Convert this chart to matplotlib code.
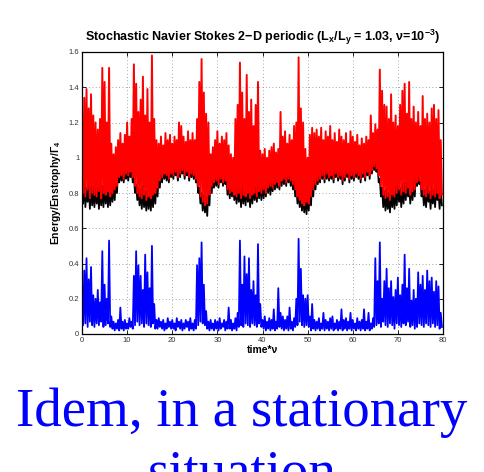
import numpy as np
import matplotlib
matplotlib.use("Agg")
import matplotlib.pyplot as plt

# ---------------- data (per 0.5 time-unit bin: local max / local min)
time_step = 0.5

red_hi = [
    1.18, 1.34, 1.39, 1.28, 1.36, 1.24, 1.20, 1.16, 1.22, 1.51,
    1.43, 1.20, 1.51, 1.08, 1.02, 1.06, 1.10, 1.14, 1.08, 1.13,
    1.20, 1.12, 1.22, 1.53, 1.42, 1.26, 1.33, 1.46, 1.24, 1.39,
    1.20, 1.58, 1.22, 1.10, 1.08, 1.12, 1.07, 1.14, 1.10, 1.13,
    1.08, 1.12, 1.10, 1.20, 1.18, 1.12, 1.09, 1.15, 1.10, 1.14,
    1.10, 1.22, 1.43, 1.56, 1.37, 1.25, 1.20, 1.02, 1.06, 1.10,
    1.15, 1.08, 1.12, 1.10, 1.14, 1.07, 1.02, 1.00, 1.22, 1.30,
    1.54, 1.37, 1.22, 1.47, 1.26, 1.33, 1.18, 1.30, 1.43, 1.04,
    1.02, 1.05, 1.00, 1.04, 1.06, 1.08, 1.03, 1.05, 1.26, 1.12,
    1.15, 1.08, 1.13, 1.10, 1.18, 1.20, 1.57, 1.28, 1.20, 1.05,
    1.00, 1.13, 1.17, 1.14, 1.16, 1.12, 1.17, 1.10, 1.15, 1.12,
    1.18, 1.10, 1.14, 1.09, 1.16, 1.12, 1.10, 1.14, 1.08, 1.15,
    1.12, 1.09, 1.13, 1.07, 1.11, 1.08, 1.12, 1.10, 1.24, 1.14,
    1.19, 1.16, 1.50, 1.38, 1.30, 1.29, 1.22, 1.36, 1.20, 1.24,
    1.18, 1.30, 1.38, 1.42, 1.25, 1.43, 1.22, 1.29, 1.20, 1.26,
    1.18, 1.35, 1.22, 1.25, 1.20, 1.28, 1.30, 1.22, 1.27, 1.10,
]
red_lo = [
    0.80, 0.78, 0.82, 0.77, 0.80, 0.79, 0.78, 0.81, 0.77, 0.80,
    0.79, 0.81, 0.78, 0.80, 0.82, 0.84, 0.89, 0.90, 0.88, 0.91,
    0.90, 0.92, 0.89, 0.84, 0.80, 0.78, 0.77, 0.79, 0.76, 0.78,
    0.77, 0.79, 0.80, 0.83, 0.87, 0.89, 0.91, 0.90, 0.88, 0.91,
    0.90, 0.92, 0.89, 0.91, 0.93, 0.90, 0.92, 0.89, 0.91, 0.90,
    0.88, 0.84, 0.78, 0.75, 0.73, 0.74, 0.79, 0.84, 0.86, 0.87,
    0.85, 0.88, 0.86, 0.87, 0.82, 0.80, 0.81, 0.79, 0.78, 0.80,
    0.77, 0.79, 0.78, 0.80, 0.77, 0.79, 0.80, 0.78, 0.81, 0.80,
    0.82, 0.80, 0.83, 0.84, 0.83, 0.85, 0.86, 0.84, 0.87, 0.88,
    0.86, 0.88, 0.87, 0.85, 0.82, 0.78, 0.76, 0.74, 0.73, 0.75,
    0.74, 0.78, 0.82, 0.85, 0.87, 0.88, 0.90, 0.88, 0.91, 0.89,
    0.90, 0.88, 0.91, 0.89, 0.90, 0.87, 0.89, 0.91, 0.88, 0.90,
    0.89, 0.91, 0.90, 0.88, 0.91, 0.89, 0.92, 0.90, 0.93, 0.95,
    0.94, 0.90, 0.84, 0.79, 0.77, 0.78, 0.76, 0.79, 0.78, 0.80,
    0.82, 0.79, 0.81, 0.80, 0.83, 0.79, 0.81, 0.82, 0.86, 0.87,
    0.82, 0.79, 0.78, 0.80, 0.77, 0.79, 0.78, 0.80, 0.77, 0.79,
]
black_hi = [
    0.84, 0.86, 0.83, 0.85, 0.87, 0.84, 0.86, 0.83, 0.85, 0.84,
    0.86, 0.83, 0.85, 0.84, 0.86, 0.88, 0.93, 0.94, 0.92, 0.95,
    0.93, 0.96, 0.94, 0.90, 0.85, 0.83, 0.82, 0.84, 0.81, 0.83,
    0.82, 0.84, 0.85, 0.88, 0.92, 0.94, 0.96, 0.95, 0.93, 0.96,
    0.95, 0.97, 0.94, 0.96, 0.98, 0.95, 0.97, 0.94, 0.96, 0.95,
    0.93, 0.89, 0.83, 0.80, 0.79, 0.78, 0.83, 0.89, 0.91, 0.92,
    0.90, 0.93, 0.91, 0.92, 0.88, 0.86, 0.87, 0.85, 0.84, 0.85,
    0.83, 0.85, 0.84, 0.86, 0.83, 0.85, 0.86, 0.84, 0.87, 0.86,
    0.87, 0.86, 0.89, 0.90, 0.89, 0.91, 0.92, 0.90, 0.93, 0.94,
    0.92, 0.94, 0.93, 0.91, 0.88, 0.84, 0.82, 0.80, 0.79, 0.80,
    0.80, 0.84, 0.88, 0.91, 0.93, 0.94, 0.96, 0.94, 0.97, 0.95,
    0.96, 0.94, 0.97, 0.95, 0.96, 0.93, 0.95, 0.97, 0.94, 0.96,
    0.95, 0.97, 0.96, 0.94, 0.97, 0.95, 0.98, 0.96, 0.99, 1.01,
    1.00, 0.96, 0.88, 0.83, 0.81, 0.82, 0.80, 0.83, 0.82, 0.84,
    0.86, 0.83, 0.85, 0.86, 0.88, 0.84, 0.86, 0.88, 0.92, 0.93,
    0.87, 0.83, 0.82, 0.85, 0.81, 0.84, 0.82, 0.85, 0.81, 0.83,
]
black_lo = [
    0.74, 0.72, 0.75, 0.71, 0.73, 0.72, 0.74, 0.71, 0.73, 0.72,
    0.74, 0.72, 0.73, 0.75, 0.76, 0.80, 0.86, 0.87, 0.86, 0.88,
    0.87, 0.89, 0.86, 0.80, 0.76, 0.73, 0.71, 0.72, 0.70, 0.71,
    0.70, 0.72, 0.74, 0.78, 0.83, 0.86, 0.88, 0.87, 0.86, 0.89,
    0.88, 0.90, 0.87, 0.89, 0.91, 0.88, 0.90, 0.87, 0.89, 0.88,
    0.86, 0.80, 0.74, 0.70, 0.69, 0.67, 0.73, 0.80, 0.83, 0.84,
    0.83, 0.86, 0.84, 0.85, 0.79, 0.77, 0.78, 0.76, 0.74, 0.75,
    0.72, 0.74, 0.73, 0.75, 0.72, 0.74, 0.76, 0.75, 0.77, 0.76,
    0.77, 0.78, 0.80, 0.79, 0.81, 0.82, 0.83, 0.82, 0.84, 0.85,
    0.84, 0.86, 0.84, 0.82, 0.78, 0.74, 0.72, 0.70, 0.69, 0.68,
    0.70, 0.73, 0.78, 0.82, 0.85, 0.86, 0.88, 0.86, 0.88, 0.87,
    0.88, 0.86, 0.89, 0.87, 0.88, 0.85, 0.87, 0.89, 0.86, 0.88,
    0.87, 0.89, 0.88, 0.86, 0.89, 0.87, 0.90, 0.88, 0.91, 0.93,
    0.92, 0.86, 0.78, 0.72, 0.70, 0.71, 0.69, 0.72, 0.71, 0.73,
    0.75, 0.72, 0.74, 0.76, 0.78, 0.74, 0.76, 0.78, 0.84, 0.85,
    0.78, 0.73, 0.72, 0.75, 0.71, 0.74, 0.72, 0.76, 0.71, 0.73,
]
blue_hi = [
    0.27, 0.36, 0.43, 0.31, 0.38, 0.22, 0.20, 0.25, 0.18, 0.47,
    0.28, 0.20, 0.53, 0.10, 0.07, 0.06, 0.08, 0.15, 0.07, 0.08,
    0.06, 0.09, 0.07, 0.33, 0.47, 0.39, 0.33, 0.25, 0.45, 0.35,
    0.26, 0.50, 0.17, 0.08, 0.09, 0.07, 0.08, 0.06, 0.09, 0.07,
    0.08, 0.06, 0.09, 0.07, 0.08, 0.06, 0.08, 0.07, 0.09, 0.06,
    0.08, 0.39, 0.43, 0.52, 0.28, 0.13, 0.07, 0.08, 0.06, 0.08,
    0.07, 0.09, 0.06, 0.08, 0.07, 0.15, 0.08, 0.06, 0.09, 0.12,
    0.53, 0.28, 0.44, 0.34, 0.43, 0.25, 0.30, 0.22, 0.51, 0.17,
    0.08, 0.10, 0.07, 0.09, 0.08, 0.14, 0.07, 0.26, 0.12, 0.10,
    0.08, 0.10, 0.15, 0.07, 0.09, 0.20, 0.54, 0.37, 0.22, 0.20,
    0.22, 0.10, 0.17, 0.08, 0.07, 0.09, 0.06, 0.12, 0.08, 0.07,
    0.09, 0.10, 0.06, 0.08, 0.07, 0.14, 0.08, 0.09, 0.07, 0.12,
    0.08, 0.06, 0.09, 0.07, 0.08, 0.14, 0.07, 0.12, 0.06, 0.09,
    0.43, 0.30, 0.52, 0.20, 0.30, 0.37, 0.26, 0.30, 0.21, 0.25,
    0.32, 0.22, 0.28, 0.45, 0.26, 0.37, 0.19, 0.25, 0.20, 0.35,
    0.28, 0.33, 0.25, 0.36, 0.30, 0.32, 0.24, 0.30, 0.27, 0.12,
]
blue_lo = [
    0.05, 0.06, 0.04, 0.07, 0.05, 0.04, 0.06, 0.05, 0.07, 0.04,
    0.05, 0.06, 0.04, 0.03, 0.02, 0.03, 0.02, 0.03, 0.02, 0.03,
    0.03, 0.04, 0.03, 0.05, 0.07, 0.05, 0.06, 0.04, 0.06, 0.05,
    0.04, 0.06, 0.03, 0.03, 0.04, 0.03, 0.02, 0.03, 0.04, 0.03,
    0.03, 0.02, 0.04, 0.03, 0.02, 0.03, 0.04, 0.02, 0.03, 0.02,
    0.03, 0.05, 0.07, 0.06, 0.05, 0.03, 0.02, 0.03, 0.02, 0.03,
    0.02, 0.03, 0.04, 0.02, 0.03, 0.03, 0.02, 0.03, 0.02, 0.04,
    0.05, 0.04, 0.06, 0.05, 0.04, 0.06, 0.05, 0.04, 0.06, 0.04,
    0.03, 0.02, 0.03, 0.02, 0.03, 0.02, 0.03, 0.04, 0.03, 0.02,
    0.03, 0.02, 0.03, 0.02, 0.04, 0.05, 0.07, 0.05, 0.04, 0.05,
    0.04, 0.02, 0.03, 0.02, 0.03, 0.02, 0.03, 0.02, 0.03, 0.02,
    0.03, 0.02, 0.03, 0.02, 0.03, 0.02, 0.03, 0.02, 0.03, 0.02,
    0.03, 0.02, 0.03, 0.02, 0.03, 0.02, 0.03, 0.02, 0.03, 0.04,
    0.05, 0.06, 0.04, 0.07, 0.05, 0.04, 0.06, 0.05, 0.03, 0.06,
    0.05, 0.04, 0.06, 0.05, 0.07, 0.04, 0.05, 0.03, 0.04, 0.06,
    0.05, 0.04, 0.06, 0.05, 0.04, 0.06, 0.04, 0.05, 0.03, 0.04,
]

x_ticks = [0, 10, 20, 30, 40, 50, 60, 70, 80]
y_ticks = [0, 0.2, 0.4, 0.6, 0.8, 1.0, 1.2, 1.4, 1.6]
y_tick_labels = ["0", "0.2", "0.4", "0.6", "0.8", "1", "1.2", "1.4", "1.6"]

title_text = (r"Stochastic Navier Stokes 2$-$D periodic (L$_{x}$/L$_{y}$ = 1.03, "
              r"ν=10$^{-3}$)")
ylabel_text = r"Energy/Enstrophy/Γ$_{4}$"
xlabel_text = "time*ν"
caption_lines = ["Idem, in a stationary", "situation"]


def zigzag(hi, lo):
    hi = np.asarray(hi, dtype=float)
    lo = np.asarray(lo, dtype=float)
    t = np.arange(len(hi)) * time_step
    tt = np.column_stack([t, t + time_step / 2]).ravel()
    yy = np.column_stack([hi, lo]).ravel()
    return tt, yy


plt.rcParams['font.family'] = ['Liberation Sans', 'DejaVu Sans']
plt.rcParams['mathtext.fontset'] = 'custom'
plt.rcParams['mathtext.rm'] = 'Liberation Sans:bold'
plt.rcParams['mathtext.it'] = 'Liberation Sans:bold'
plt.rcParams['mathtext.bf'] = 'Liberation Sans:bold'
plt.rcParams['mathtext.default'] = 'rm'

fig = plt.figure(figsize=(4.84, 4.72), dpi=100)
W, H = 484, 472
ax = fig.add_axes([82 / W, 1 - 334 / H, (443 - 82) / W, (334 - 52) / H])

tb, yb = zigzag(black_hi, black_lo)
tr, yr = zigzag(red_hi, red_lo)
tu, yu = zigzag(blue_hi, blue_lo)
ax.plot(tb, yb, color='black', lw=1.3)
ax.plot(tr, yr, color='#ff0000', lw=1.4)
ax.plot(tu, yu, color='#0000ff', lw=1.3)

ax.set_xlim(0, 80)
ax.set_ylim(0, 1.6)
ax.set_xticks(x_ticks)
ax.set_xticklabels([str(v) for v in x_ticks])
ax.set_yticks(y_ticks)
ax.set_yticklabels(y_tick_labels)
ax.tick_params(direction='in', top=True, right=True, labelsize=5.5,
               length=3, width=0.6, labelcolor='#333333', pad=2)
ax.grid(True, color='#888888', linewidth=0.6, linestyle=(0, (1, 3)))
for s in ax.spines.values():
    s.set_linewidth(0.9)

ax.set_title(title_text, fontsize=9.0, fontweight='bold', pad=8)
ax.set_ylabel(ylabel_text, fontsize=7.5, fontweight='bold', labelpad=4)
ax.set_xlabel(xlabel_text, fontsize=7.5, fontweight='bold', labelpad=1)

caption_baselines = [426, 488]
for line, yb_px in zip(caption_lines, caption_baselines):
    fig.text(0.5, 1 - yb_px / H, line, color='#0000ff', fontsize=39.5,
             family=['Liberation Serif', 'DejaVu Serif'], ha='center',
             va='baseline')

fig.savefig('out.png', dpi=100)
